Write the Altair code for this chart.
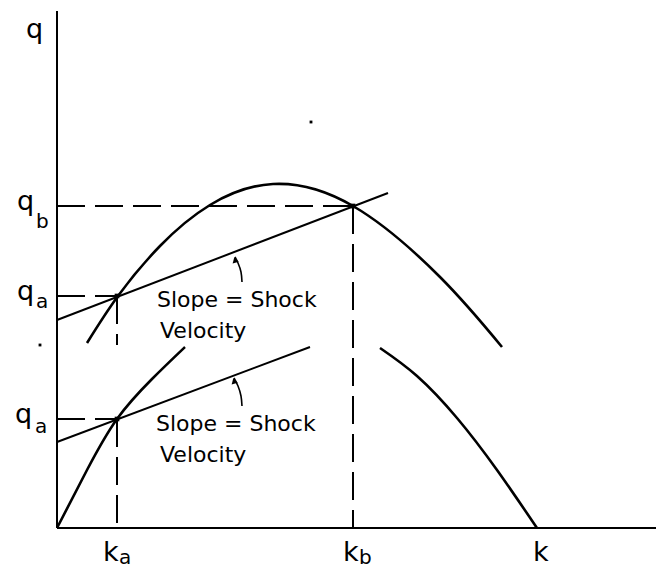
import altair as alt
import pandas as pd

# ---- values (k = density, q = flow; arbitrary units) ----
upper_curve_k = [30, 61, 103, 153, 216, 296, 383, 445]
upper_curve_q = [185, 232, 282, 323, 344, 322, 251, 181]

lower_left_k = [0, 30, 60, 95, 128]
lower_left_q = [0, 58, 109, 149, 181]

lower_right_k = [323, 360, 400, 440, 480]
lower_right_q = [180, 152, 110, 58, 0]

upper_chord_k = [0, 331]
upper_chord_q = [208, 335]
lower_chord_k = [0, 253]
lower_chord_q = [86, 181]

k_a, k_b = 60, 296
q_a_upper, q_a_lower, q_b = 232, 109, 322

# axis extents
axis_y_top = 517
axis_x_right = 599

# arrows (Slope = Shock Velocity pointers)
arrow1_k = [185, 184, 181, 178]
arrow1_q = [246, 256, 265, 271]
arrow2_k = [185, 184, 181, 177]
arrow2_q = [122, 132, 142, 150]

# labels: text, k, q, size
label_text = ["q", "q", "b", "q", "a", "q", "a", "k", "a", "k", "b", "k"]
label_k = [-31, -40, -21, -40, -21, -42, -22, 46, 62, 286, 302, 476]
label_q = [490, 318, 300, 228, 220, 105, 95, -33, -36, -33, -36, -33]
label_size = [27, 27, 20, 27, 20, 27, 20, 27, 20, 27, 20, 27]

note_text = ["Slope = Shock", "Velocity", "Slope = Shock", "Velocity"]
note_k = [100, 103, 99, 103]
note_q = [221, 190, 97, 66]

speck_k = [254, -17]
speck_q = [406, 183]

XDOM = [-49, 599]
YDOM = [-41, 520]
xs = alt.Scale(domain=XDOM, nice=False, zero=False)
ys = alt.Scale(domain=YDOM, nice=False, zero=False)


def seg_df(name, ks, qs):
    return pd.DataFrame({"seg": name, "k": ks, "q": qs, "o": list(range(len(ks)))})


X = alt.X("k:Q", scale=xs, axis=None)
Y = alt.Y("q:Q", scale=ys, axis=None)

# axes
axes_df = pd.concat([
    seg_df("yaxis", [0, 0], [0, axis_y_top]),
    seg_df("xaxis", [0, axis_x_right], [0, 0]),
])
axes = alt.Chart(axes_df).mark_line(color="black", strokeWidth=2).encode(
    x=X, y=Y, detail="seg:N", order="o:Q")

# curves
curves_df = pd.concat([
    seg_df("upper", upper_curve_k, upper_curve_q),
    seg_df("lowerL", lower_left_k, lower_left_q),
    seg_df("lowerR", lower_right_k, lower_right_q),
])
curves = alt.Chart(curves_df).mark_line(
    color="black", strokeWidth=2.6, interpolate="natural").encode(
    x=X, y=Y, detail="seg:N", order="o:Q")

# chords
chords_df = pd.concat([
    seg_df("c1", upper_chord_k, upper_chord_q),
    seg_df("c2", lower_chord_k, lower_chord_q),
])
chords = alt.Chart(chords_df).mark_line(color="black", strokeWidth=2).encode(
    x=X, y=Y, detail="seg:N", order="o:Q")

# dashed guide lines
dash_df = pd.concat([
    seg_df("qb_h", [0, k_b], [q_b, q_b]),
    seg_df("kb_v", [k_b, k_b], [q_b, 0]),
    seg_df("qa1_h", [0, k_a], [q_a_upper, q_a_upper]),
    seg_df("ka1_v", [k_a, k_a], [q_a_upper, 183]),
    seg_df("qa2_h", [0, k_a], [q_a_lower, q_a_lower]),
    seg_df("ka2_v", [k_a, k_a], [q_a_lower, 0]),
])
dashes = alt.Chart(dash_df).mark_line(
    color="black", strokeWidth=2, strokeDash=[28, 10]).encode(
    x=X, y=Y, detail="seg:N", order="o:Q")

# intersection blobs
pts_df = pd.DataFrame({"k": [k_a, k_b, k_a], "q": [q_a_upper, q_b, q_a_lower]})
pts = alt.Chart(pts_df).mark_square(color="black", size=22, opacity=1).encode(x=X, y=Y)

# arrows
arr_df = pd.concat([seg_df("a1", arrow1_k, arrow1_q), seg_df("a2", arrow2_k, arrow2_q)])
arrows = alt.Chart(arr_df).mark_line(
    color="black", strokeWidth=1.6, interpolate="natural").encode(
    x=X, y=Y, detail="seg:N", order="o:Q")
heads_df = pd.DataFrame({"k": [arrow1_k[-1], arrow2_k[-1]],
                         "q": [arrow1_q[-1] - 3, arrow2_q[-1] - 3]})
heads = alt.Chart(heads_df).mark_point(
    shape="triangle-up", filled=True, color="black", size=40, angle=345, opacity=1).encode(x=X, y=Y)

# labels
lab_df = pd.DataFrame({"t": label_text, "k": label_k, "q": label_q, "s": label_size})
labels = alt.Chart(lab_df).mark_text(
    align="left", baseline="alphabetic", font="DejaVu Sans", color="black").encode(
    x=X, y=Y, text="t:N", size=alt.Size("s:Q", scale=None, legend=None))

note_df = pd.DataFrame({"t": note_text, "k": note_k, "q": note_q})
notes = alt.Chart(note_df).mark_text(
    align="left", baseline="alphabetic", font="DejaVu Sans", fontSize=22, color="black").encode(
    x=X, y=Y, text="t:N")

speck_df = pd.DataFrame({"k": speck_k, "q": speck_q})
specks = alt.Chart(speck_df).mark_square(color="black", size=8, opacity=1).encode(x=X, y=Y)

chart = alt.layer(
    axes, dashes, chords, curves, arrows, heads, pts, labels, notes, specks
).properties(
    width=648, height=561, padding=0, autosize=alt.AutoSizeParams(type="none"),
    background="white"
).configure_view(stroke=None)

chart.save("out.html", embed_options={"renderer": "svg", "actions": False})
